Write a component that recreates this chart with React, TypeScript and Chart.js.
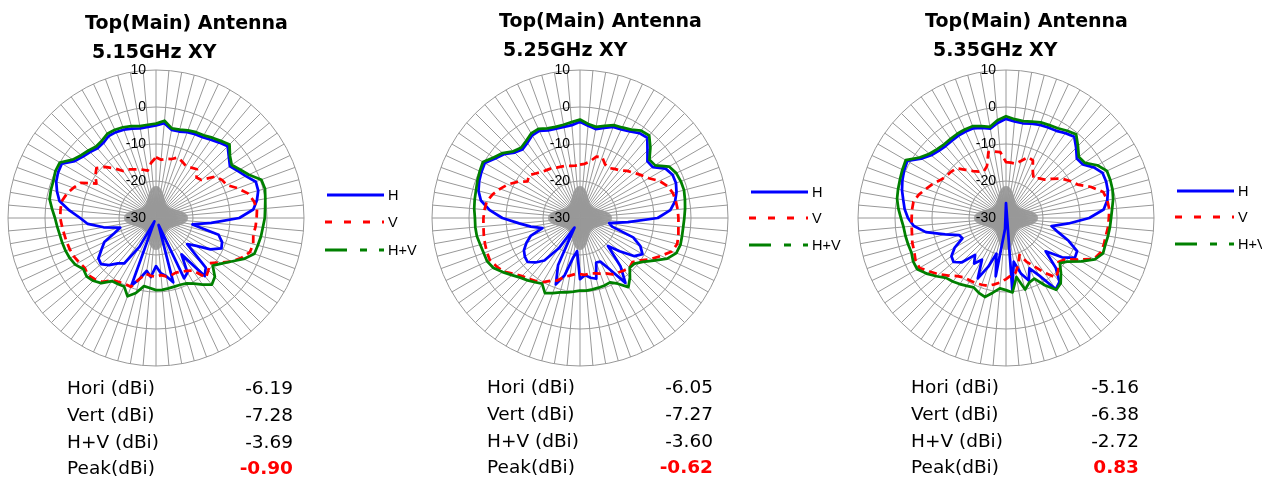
import React, { useEffect, useRef } from "react";
import { Chart, registerables } from "chart.js";

Chart.register(...registerables);

// ---------- data ----------
const angleLabels = [
  "0", "5", "10", "15", "20", "25", "30", "35", "40", "45",
  "50", "55", "60", "65", "70", "75", "80", "85", "90", "95",
  "100", "105", "110", "115", "120", "125", "130", "135", "140", "145",
  "150", "155", "160", "165", "170", "175", "180", "185", "190", "195",
  "200", "205", "210", "215", "220", "225", "230", "235", "240", "245",
  "250", "255", "260", "265", "270", "275", "280", "285", "290", "295",
  "300", "305", "310", "315", "320", "325", "330", "335", "340", "345",
  "350", "355",
];

const tickValues = [-30, -20, -10, 0, 10];
const seriesNames = ["H", "V", "H+V"];

// 5.15 GHz
const h515 = [
  -5.0, -4.3, -5.8, -5.8, -5.3, -5.0, -4.8, -4.2, -3.4, -2.6,
  -4.3, -5.6, -4.5, -3.2, -1.3, -1.4, -2.3, -3.6, -7.5, -15.0,
  -20.0, -12.5, -11.0, -10.5, -13.0, -17.0, -19.0, -11.0, -9.5, -18.0,
  -13.0, -12.0, -28.0, -12.0, -14.0, -15.0, -17.0, -14.0, -15.5, -13.0,
  -10.5, -29.0, -21.0, -15.0, -14.0, -12.0, -10.6, -11.0, -13.0, -14.6,
  -18.0, -20.0, -15.6, -11.5, -9.5, -6.5, -3.5, -2.3, -1.3, -0.8,
  -0.6, -3.2, -4.2, -4.8, -5.4, -5.2, -4.4, -4.4, -4.6, -5.0,
  -5.4, -5.3,
];
const v515 = [
  -13.6, -14.2, -13.8, -13.5, -12.6, -13.2, -13.8, -13.4, -12.8, -14.5,
  -14.0, -10.5, -9.4, -8.9, -6.5, -4.3, -3.2, -2.6, -2.8, -3.0,
  -3.3, -2.8, -3.0, -4.5, -6.5, -9.0, -11.0, -10.0, -9.0, -12.7,
  -13.5, -14.0, -14.3, -14.0, -14.0, -14.5, -14.1, -14.3, -14.7, -13.0,
  -10.2, -10.3, -10.0, -9.5, -7.5, -6.6, -6.0, -6.5, -6.0, -5.5,
  -5.2, -5.0, -4.8, -4.5, -4.1, -4.1, -4.1, -5.0, -6.2, -7.5,
  -11.4, -10.0, -9.0, -10.5, -12.5, -14.5, -14.8, -15.5, -16.0, -16.5,
  -17.0, -15.0,
];
const hv515 = [
  -4.5, -3.6, -5.4, -5.3, -4.8, -4.4, -4.2, -3.5, -2.8, -1.9,
  -3.9, -5.0, -3.8, -2.3, 0.3, 0.5, 0.0, -0.4, -0.6, -1.0,
  -1.2, -1.5, -1.7, -3.8, -6.5, -8.5, -10.0, -7.5, -6.5, -8.0,
  -9.5, -10.5, -10.8, -10.8, -10.7, -10.5, -10.5, -11.0, -11.3, -9.0,
  -7.5, -9.6, -9.4, -9.2, -7.0, -6.0, -5.5, -6.0, -4.8, -4.3,
  -4.0, -3.8, -3.6, -3.2, -2.7, -1.8, -0.8, -0.6, -0.5, 0.0,
  0.0, -2.5, -3.6, -4.2, -4.8, -4.5, -3.7, -3.7, -3.9, -4.3,
  -4.8, -4.7,
];

// 5.25 GHz
const h525 = [
  -4.0, -5.0, -5.6, -4.8, -3.8, -3.6, -3.0, -2.0, -1.7, -4.2,
  -6.2, -6.0, -3.3, -2.4, -2.4, -3.0, -3.9, -5.5, -9.0, -17.0,
  -22.0, -21.0, -14.7, -12.0, -10.5, -12.0, -16.0, -19.3, -13.0, -8.6,
  -14.0, -17.0, -17.2, -13.0, -13.6, -14.5, -13.5, -21.0, -19.0, -14.0,
  -10.9, -16.0, -27.0, -20.0, -15.0, -13.0, -11.5, -11.8, -12.5, -14.0,
  -15.8, -19.5, -16.5, -13.5, -9.0, -5.5, -2.8, -1.6, -1.0, -0.6,
  -0.3, -2.0, -3.2, -5.0, -5.8, -5.2, -4.2, -4.0, -4.8, -5.0,
  -5.0, -4.8,
];
const v525 = [
  -15.6, -15.3, -14.5, -12.8, -12.5, -14.0, -14.4, -13.8, -13.2, -12.0,
  -11.0, -9.8, -8.5, -6.3, -4.8, -4.0, -3.7, -3.5, -3.4, -3.3,
  -3.0, -2.8, -3.6, -5.8, -7.8, -10.0, -11.5, -11.0, -11.5, -12.0,
  -12.4, -13.5, -14.0, -14.5, -14.8, -14.6, -14.8, -14.8, -14.2, -13.5,
  -12.0, -11.3, -10.0, -9.2, -8.5, -7.8, -6.5, -4.8, -3.9, -3.1,
  -3.2, -3.4, -3.6, -3.8, -3.9, -4.1, -4.4, -5.5, -7.0, -8.5,
  -10.5, -12.7, -12.0, -13.0, -13.8, -14.2, -14.5, -15.0, -15.2, -15.4,
  -15.7, -15.8,
];
const hv525 = [
  -3.4, -4.5, -5.0, -4.2, -3.3, -3.0, -2.4, -1.2, -0.9, -3.1,
  -5.5, -5.2, -2.2, -1.3, -1.0, -0.9, -1.2, -1.5, -1.8, -2.0,
  -2.0, -1.9, -2.3, -4.0, -7.0, -9.3, -10.8, -11.0, -9.0, -7.2,
  -9.5, -10.8, -10.6, -10.5, -10.4, -10.3, -10.4, -10.0, -9.6, -9.2,
  -8.4, -7.6, -9.5, -8.8, -8.0, -7.2, -6.0, -4.5, -3.0, -2.3,
  -2.3, -2.1, -1.7, -1.6, -1.6, -1.3, -1.1, -0.9, -0.5, -0.1,
  0.3, -1.5, -2.7, -4.5, -5.2, -4.6, -3.6, -3.4, -4.2, -4.5,
  -4.4, -4.0,
];

// 5.35 GHz
const h535 = [
  -3.2, -3.8, -4.0, -3.6, -3.2, -3.0, -2.8, -2.0, -1.3, -3.2,
  -5.0, -4.7, -2.6, -1.2, -1.2, -1.5, -2.2, -3.5, -7.5, -13.0,
  -17.5, -15.5, -12.0, -8.8, -8.5, -11.5, -16.0, -11.0, -7.5, -6.5,
  -12.0, -15.0, -12.0, -14.5, -18.0, -10.5, -34.0, -27.0, -14.0, -20.0,
  -16.0, -12.0, -17.0, -15.0, -17.0, -13.0, -11.5, -12.0, -14.0, -17.0,
  -16.5, -13.0, -8.0, -5.0, -3.5, -2.5, -1.8, -0.9, -0.2, 0.4,
  0.8, -2.0, -3.6, -4.3, -4.6, -4.5, -4.3, -4.2, -4.2, -4.8,
  -5.5, -4.2,
];
const v535 = [
  -14.9, -15.0, -15.1, -14.0, -12.5, -12.8, -15.5, -17.0, -16.0, -15.3,
  -13.5, -11.5, -10.0, -8.6, -5.5, -2.8, -2.2, -2.0, -2.2, -2.3,
  -2.6, -2.6, -2.8, -3.8, -7.5, -10.5, -11.5, -10.0, -9.0, -12.0,
  -15.0, -17.0, -19.4, -17.0, -15.0, -14.4, -13.5, -12.5, -11.8, -11.0,
  -10.8, -10.6, -10.5, -10.4, -9.5, -8.0, -6.3, -4.8, -3.0, -3.0,
  -3.6, -3.8, -4.2, -4.4, -4.5, -4.5, -4.6, -5.6, -7.0, -8.2,
  -9.5, -10.3, -10.6, -11.0, -13.0, -14.5, -15.5, -16.0, -15.0, -11.6,
  -11.8, -12.1,
];
const hv535 = [
  -2.5, -3.2, -3.4, -3.0, -2.5, -2.3, -2.0, -1.2, -0.5, -2.5,
  -4.3, -4.0, -1.5, 0.1, 0.0, -0.2, -0.6, -1.2, -1.6, -1.8,
  -2.0, -2.2, -2.1, -3.5, -6.5, -9.5, -11.0, -9.0, -7.0, -6.3,
  -9.0, -11.9, -11.5, -10.0, -13.8, -9.8, -10.5, -10.9, -9.5, -7.9,
  -8.5, -9.3, -8.8, -8.2, -7.6, -7.1, -5.5, -3.8, -2.3, -2.3,
  -2.8, -2.6, -2.4, -2.2, -1.6, -0.8, -0.1, 0.2, 0.5, 0.9,
  1.3, -1.5, -3.0, -3.7, -4.0, -3.9, -3.7, -3.6, -3.6, -4.3,
  -5.0, -3.5,
];

const mainTitle = "Top(Main) Antenna";
const subTitles = ["5.15GHz XY", "5.25GHz XY", "5.35GHz XY"];
const rowLabels = ["Hori (dBi)", "Vert (dBi)", "H+V (dBi)", "Peak(dBi)"];
const gains515 = ["-6.19", "-7.28", "-3.69", "-0.90"];
const gains525 = ["-6.05", "-7.27", "-3.60", "-0.62"];
const gains535 = ["-5.16", "-6.38", "-2.72", "0.83"];

// ---------- layout (positions / styles only) ----------
const panels = [
  {
    h: h515, v: v515, hv: hv515, sub: subTitles[0], gains: gains515,
    cx: 156, cy: 218,
    tx: 85, ty: 29, sx: 92, sy: 58,
    lx1: 325, lx2: 384, ltx: 388, ly: [195, 222, 250],
    tlx: 67, tvx: 293, tyy: [394, 421, 447.5, 474],
  },
  {
    h: h525, v: v525, hv: hv525, sub: subTitles[1], gains: gains525,
    cx: 580, cy: 218,
    tx: 499, ty: 27, sx: 503, sy: 56,
    lx1: 749, lx2: 808, ltx: 812, ly: [192, 218, 245],
    tlx: 487, tvx: 713, tyy: [393, 420, 446.5, 473],
  },
  {
    h: h535, v: v535, hv: hv535, sub: subTitles[2], gains: gains535,
    cx: 1006, cy: 218,
    tx: 925, ty: 27, sx: 933, sy: 56,
    lx1: 1175, lx2: 1234, ltx: 1238, ly: [191, 217, 244],
    tlx: 911, tvx: 1139, tyy: [393, 420, 446.5, 473],
  },
];

const BLUE = "#0000ff";
const RED = "#ff0000";
const GREEN = "#008000";
const GRID = "#989898";
const PAD = 12;
const AREA = 296;
const CANVAS = AREA + PAD * 2;
const HALF = PAD + AREA / 2;

function Radar({ h, v, hv, cx, cy }: { h: number[]; v: number[]; hv: number[]; cx: number; cy: number }) {
  const ref = useRef<HTMLCanvasElement>(null);
  useEffect(() => {
    if (!ref.current) return;
    const hubPlugin = {
      id: "hubAndTicks",
      beforeDatasetsDraw(chart: any) {
        const s = chart.scales.r;
        const ctx = chart.ctx;
        ctx.save();
        // dense spoke hub near the centre (grid decoration)
        ctx.strokeStyle = GRID;
        ctx.lineWidth = 1;
        const n = 240;
        for (let i = 0; i < n; i++) {
          const a = (i / n) * Math.PI * 2;
          const len = 17 + 15 * Math.pow(Math.abs(Math.cos(2 * a)), 3.5);
          ctx.beginPath();
          ctx.moveTo(s.xCenter, s.yCenter);
          ctx.lineTo(s.xCenter + Math.sin(a) * len, s.yCenter - Math.cos(a) * len);
          ctx.stroke();
        }
        ctx.font = '14px "Liberation Sans", Arial, sans-serif';
        ctx.fillStyle = "#000";
        ctx.textAlign = "right";
        ctx.textBaseline = "middle";
        tickValues.forEach((t) => {
          const d = s.getDistanceFromCenterForValue(t);
          ctx.fillText(String(t), s.xCenter - 10, s.yCenter - d);
        });
        ctx.restore();
      },
    };
    const chart = new Chart(ref.current, {
      type: "radar",
      data: {
        labels: angleLabels,
        datasets: [
          { label: seriesNames[2], data: hv, borderColor: GREEN, backgroundColor: "transparent", borderWidth: 2.75, order: 0, fill: false },
          { label: seriesNames[1], data: v, borderColor: RED, backgroundColor: "transparent", borderWidth: 2.75, borderDash: [8, 5], order: 1, fill: false },
          { label: seriesNames[0], data: h, borderColor: BLUE, backgroundColor: "transparent", borderWidth: 2.75, order: 2, fill: false },
        ],
      },
      options: {
        responsive: false,
        animation: false,
        events: [],
        layout: { padding: PAD },
        elements: {
          point: { radius: 0, hoverRadius: 0 },
          line: { tension: 0, borderJoinStyle: "round" },
        },
        plugins: { legend: { display: false }, tooltip: { enabled: false }, title: { display: false } },
        scales: {
          r: {
            min: -30,
            max: 10,
            ticks: { stepSize: 10, display: false },
            pointLabels: { display: false },
            grid: { circular: true, color: GRID, lineWidth: 1 },
            angleLines: { color: GRID, lineWidth: 1 },
          },
        },
      } as any,
      plugins: [hubPlugin],
    });
    return () => chart.destroy();
  }, []);
  return (
    <canvas
      ref={ref}
      width={CANVAS}
      height={CANVAS}
      style={{ position: "absolute", left: cx - HALF, top: cy - HALF, width: CANVAS, height: CANVAS }}
    />
  );
}

export default function App() {
  const titleFont = '"DejaVu Sans", Verdana, sans-serif';
  const legendFont = '"Liberation Sans", Arial, sans-serif';
  const dashes = ["", "7 12", "22 13 7 12"];
  const colors = [BLUE, RED, GREEN];
  return (
    <div style={{ position: "absolute", left: 0, top: 0, width: 1262, height: 479, background: "#fff", overflow: "hidden" }}>
      {panels.map((p, i) => (
        <Radar key={i} h={p.h} v={p.v} hv={p.hv} cx={p.cx} cy={p.cy} />
      ))}
      <svg width={1262} height={479} style={{ position: "absolute", left: 0, top: 0 }}>
        {panels.map((p, i) => (
          <g key={i}>
            <text x={p.tx} y={p.ty} fontFamily={titleFont} fontWeight="bold" fontSize={19} fill="#000">
              {mainTitle}
            </text>
            <text x={p.sx} y={p.sy} fontFamily={titleFont} fontWeight="bold" fontSize={19} fill="#000">
              {p.sub}
            </text>
            {seriesNames.map((n, k) => (
              <g key={n}>
                <line
                  x1={p.lx1 + (k === 0 ? 2 : 0)}
                  x2={p.lx2}
                  y1={p.ly[k]}
                  y2={p.ly[k]}
                  stroke={colors[k]}
                  strokeWidth={3}
                  strokeDasharray={dashes[k] || undefined}
                />
                <text x={p.ltx} y={p.ly[k] + 5} fontFamily={legendFont} fontSize={14.5} fill="#000">
                  {n}
                </text>
              </g>
            ))}
            {rowLabels.map((r, k) => (
              <g key={r}>
                <text x={p.tlx} y={p.tyy[k]} fontFamily={titleFont} fontSize={18.5} fill="#000">
                  {r}
                </text>
                <text
                  x={p.tvx}
                  y={p.tyy[k]}
                  textAnchor="end"
                  fontFamily={titleFont}
                  fontSize={18.5}
                  fontWeight={k === 3 ? "bold" : "normal"}
                  fill={k === 3 ? RED : "#000"}
                >
                  {p.gains[k]}
                </text>
              </g>
            ))}
          </g>
        ))}
      </svg>
    </div>
  );
}
